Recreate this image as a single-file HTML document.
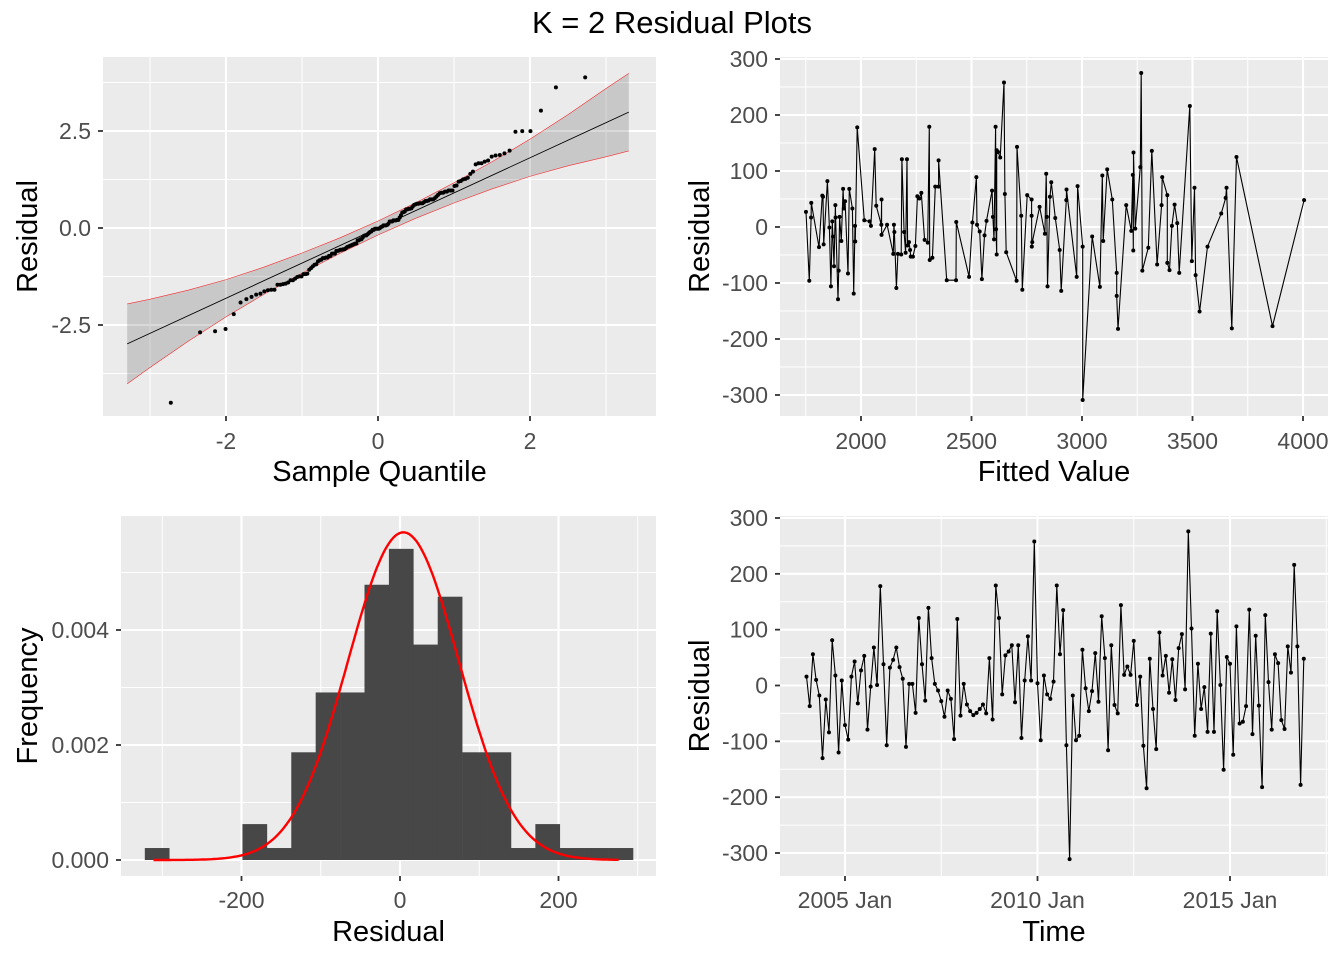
<!DOCTYPE html>
<html><head><meta charset="utf-8"><style>
html,body{margin:0;padding:0;background:#fff}
svg{display:block}
text{font-family:"Liberation Sans",Arial,sans-serif}
</style></head><body>
<svg id="chart" width="1344" height="960" viewBox="0 0 1344 960" xmlns="http://www.w3.org/2000/svg">
<text x="672" y="33" text-anchor="middle" font-size="31" fill="#000">K = 2 Residual Plots</text>
<g id="p1"></g>
<g id="p2"></g>
<g id="p3"></g>
<g id="p4"></g>
</svg>
<script>
// residuals in time order (monthly)
const residuals = [16,-37,56,10,-18,-130,-25,-84,81,18,-120,9,-71,-97,16,43,-32,27,53,-79,-2,68,1,178,38,-107,32,46,68,33,12,-110,3,3,-49,121,38,-27,139,49,3,-9,-28,-56,-9,-24,-96,119,-54,
3,-34,-46,-53,-49,-42,-34,-50,49,-61,179,121,-16,54,61,72,-30,72,-94,9,88,9,258,4,-98,18,-16,-24,7,179,56,135,-107,-311,-18,-98,-90,64,-5,-46,-10,58,-29,124,49,-116,72,-35,-50,144,19,34,
19,80,-35,16,-108,-184,48,-42,-114,95,18,53,-13,47,-26,67,92,-7,276,102,-90,39,-42,-3,-83,93,-83,133,1,-151,51,39,-124,106,-68,-65,-37,136,-87,89,-36,-182,126,6,-79,56,40,-62,-78,70,23,216,70,-178,48];
const residualSigma = 70;
const qqLineSlope = 0.905, qqLineIntercept = 0.0;
const timeStart = 2004.0, timeEnd = 2016.917;
const timeTicks = [2005, 2010, 2015];
const timeTickLabels = ["2005 Jan", "2010 Jan", "2015 Jan"];
// fitted value vs residual (sorted by fitted)
const fittedValues = [1751,1766,1774,1775,1810,1825,1828,1831,1848,1857,1864,1870,1873,1878,1884,1885,1896,1899,1903,1911,1919,1922,1928,1941,1947,1961,1967,1973,1974,1983,2015,2039,2045,2062,2069,2092,2093,2093,2118,2146,2149,2151,2160,2167,2182,2185,2195,2202,2208,2211,2217,2222,2225,2235,2246,2255,2264,2273,2288,2302,2309,2311,2323,2336,2351,2351,2388,2430,2431,2489,2504,
2522,2525,2537,2547,2559,2568,2593,2597,2602,2609,2611,2614,2614,2620,2630,2647,2651,2657,2704,2706,2725,2730,2752,2772,2772,2773,2775,2808,2832,2838,2841,2844,2855,2861,2879,2899,2906,2929,2930,2976,2980,3003,3003,3046,3081,3092,3096,3114,3137,3157,3157,3163,3200,3223,3230,3232,3233,3241,3264,3268,3273,3300,
3316,3340,3360,3363,3386,3386,3396,3407,3419,3431,3440,3488,3497,3509,3514,3532,3568,3630,3650,3654,3678,3699,3862,4005];
const fittedResiduals = [27,-96,17,43,-36,56,54,-31,82,-1,-106,10,-17,-70,39,17,-129,-78,18,-25,68,33,46,-83,68,33,-119,2,-26,178,12,10,2,139,38,4,49,-14,4,-48,4,-9,-109,-48,-49,121,-9,-46,121,-33,-27,-41,-53,-53,-34,55,51,61,-23,-28,179,-59,-55,72,72,119,-95,-95,9,-89,8,
89,4,-8,-93,-15,11,65,18,-22,179,-4,-49,137,134,124,258,59,-45,-96,143,20,-112,57,49,20,-35,-27,36,-12,95,18,-106,54,80,16,-41,-114,48,67,-89,73,-35,-309,-17,-107,92,-25,103,49,-82,-123,-182,39,-7,93,-42,133,-3,107,275,-78,-37,
136,-67,39,89,57,-64,-77,2,40,7,-82,216,-61,70,-86,-151,-35,24,52,70,-181,125,-177,48];
// histogram (counts per bin)
const histCounts = [1,0,0,0,3,1,9,14,14,23,26,18,22,9,9,1,3,1,1,1];
const histStart = -322, histBinWidth = 30.8;
// QQ confidence band half-widths
const bandX = [-3.3,-3,-2.5,-2,-1.5,-1,-0.5,0,0.5,1,1.5,2,2.5,3,3.3];
const bandHalf = [1.03,0.88,0.66,0.48,0.35,0.26,0.2,0.18,0.2,0.26,0.35,0.48,0.66,0.88,1.0];

const NS="http://www.w3.org/2000/svg";
function mk(parent, tag, attrs){const e=document.createElementNS(NS,tag);for(const k in attrs)e.setAttribute(k,attrs[k]);parent.appendChild(e);return e;}
function lin(d0,d1,r0,r1){return v=>r0+(v-d0)*(r1-r0)/(d1-d0);}
function qnorm(p){const a=[-3.969683028665376e+01,2.209460984245205e+02,-2.759285104469687e+02,1.383577518672690e+02,-3.066479806614716e+01,2.506628277459239e+00],b=[-5.447609879822406e+01,1.615858368580409e+02,-1.556989798598866e+02,6.680131188771972e+01,-1.328068155288572e+01],c=[-7.784894002430293e-03,-3.223964580411365e-01,-2.400758277161838e+00,-2.549732539343734e+00,4.374664141464968e+00,2.938163982698783e+00],d=[7.784695709041462e-03,3.224671290700398e-01,2.445134137142996e+00,3.754408661907416e+00];const pl=0.02425;let q,r;if(p<pl){q=Math.sqrt(-2*Math.log(p));return(((((c[0]*q+c[1])*q+c[2])*q+c[3])*q+c[4])*q+c[5])/((((d[0]*q+d[1])*q+d[2])*q+d[3])*q+1);}if(p>1-pl){q=Math.sqrt(-2*Math.log(1-p));return-(((((c[0]*q+c[1])*q+c[2])*q+c[3])*q+c[4])*q+c[5])/((((d[0]*q+d[1])*q+d[2])*q+d[3])*q+1);}q=p-0.5;r=q*q;return(((((a[0]*r+a[1])*r+a[2])*r+a[3])*r+a[4])*r+a[5])*q/(((((b[0]*r+b[1])*r+b[2])*r+b[3])*r+b[4])*r+1);}

function panel(g, L,T,R,B, xs, ys, xMaj, xMin, yMaj, yMin, xLab, yLab, yLabX, xLabY, xTitle, yTitle, yTitleX){
  const bg=mk(g,'rect',{x:L,y:T,width:R-L,height:B-T,fill:'#EBEBEB'});
  
  
  xMin.forEach(v=>{const x=xs(v);if(x>L&&x<R){const l=mk(g,'line',{x1:x,x2:x,y1:T,y2:B,stroke:'#fff','stroke-width':1});}});
  yMin.forEach(v=>{const y=ys(v);if(y>T&&y<B){const l=mk(g,'line',{x1:L,x2:R,y1:y,y2:y,stroke:'#fff','stroke-width':1});}});
  xMaj.forEach((v,i)=>{const x=xs(v);const l=mk(g,'line',{x1:x,x2:x,y1:T,y2:B,stroke:'#fff','stroke-width':2.1});
    mk(g,'line',{x1:x,x2:x,y1:B,y2:B+5,stroke:'#333','stroke-width':1.8});
    const t=mk(g,'text',{x:x,y:xLabY,'text-anchor':'middle','font-size':23,fill:'#4D4D4D'});t.textContent=xLab[i];});
  yMaj.forEach((v,i)=>{const y=ys(v);const l=mk(g,'line',{x1:L,x2:R,y1:y,y2:y,stroke:'#fff','stroke-width':2.1});
    mk(g,'line',{x1:L-5,x2:L,y1:y,y2:y,stroke:'#333','stroke-width':1.8});
    const t=mk(g,'text',{x:yLabX,y:y+8,'text-anchor':'end','font-size':23,fill:'#4D4D4D'});t.textContent=yLab[i];});
  const xt=mk(g,'text',{x:(L+R)/2,y:B+65,'text-anchor':'middle','font-size':29,fill:'#000'});xt.textContent=xTitle;
  
  const cy=(T+B)/2;
  const yt=mk(g,'text',{x:yTitleX,y:cy,'text-anchor':'middle','font-size':29,fill:'#000',transform:`rotate(-90 ${yTitleX} ${cy})`});yt.textContent=yTitle;
  
}
function drawLinePoints(g, xsArr, ysArr){
  const d=xsArr.map((x,i)=>(i?'L':'M')+x.toFixed(1)+','+ysArr[i].toFixed(1)).join('');
  const p=mk(g,'path',{d:d,fill:'none',stroke:'#000','stroke-width':1.1});
  
  xsArr.forEach((x,i)=>{const c=mk(g,'circle',{cx:x,cy:ysArr[i],r:2,fill:'#000'});
    });
}
const n=residuals.length;
const mean=residuals.reduce((a,b)=>a+b,0)/n;
const sd=residualSigma;

// ---- Panel 1: QQ plot
(function(){
  const g=document.getElementById('p1');
  const L=103,T=57,R=656,B=416;
  const xs=lin(0,2,378,530), ys=lin(0,2.5,228,131);
  panel(g,L,T,R,B,xs,ys,[-2,0,2],[-3,-1,1,3],[-2.5,0,2.5],[-3.75,-1.25,1.25,3.75],['-2','0','2'],['-2.5','0.0','2.5'],91,449,'Sample Quantile','Residual',37);
  const sorted=residuals.map(r=>(r-mean)/sd).sort((a,b)=>a-b);
  const theo=sorted.map((v,i)=>qnorm((i+0.5)/n));
  const slope=qqLineSlope, inter=qqLineIntercept;
  const up=bandX.map((x,i)=>[xs(x),ys(inter+slope*x+bandHalf[i])]);
  const lo=bandX.map((x,i)=>[xs(x),ys(inter+slope*x-bandHalf[i])]);
  const band=mk(g,'path',{d:'M'+up.map(p=>p.join(',')).join('L')+'L'+lo.slice().reverse().map(p=>p.join(',')).join('L')+'Z',fill:'#000','fill-opacity':0.15});
  
  [up,lo].forEach(a=>{const e=mk(g,'path',{d:'M'+a.map(p=>p.join(',')).join('L'),fill:'none',stroke:'#f00','stroke-width':0.6,'stroke-opacity':0.8});
    });
  const x0=bandX[0],x1=bandX[bandX.length-1];
  const rl=mk(g,'line',{x1:xs(x0),y1:ys(inter+slope*x0),x2:xs(x1),y2:ys(inter+slope*x1),stroke:'#000','stroke-width':0.9});
  
  sorted.forEach((v,i)=>{const c=mk(g,'circle',{cx:xs(theo[i]),cy:ys(v),r:2,fill:'#000'});
    });
})();

// ---- Panel 2: fitted vs residual
(function(){
  const g=document.getElementById('p2');
  const L=780,T=57,R=1328,B=416;
  const xs=lin(2000,4000,861,1303), ys=lin(0,300,227,59);
  const yt=[-300,-200,-100,0,100,200,300];
  panel(g,L,T,R,B,xs,ys,[2000,2500,3000,3500,4000],[1750,2250,2750,3250,3750],yt,[-250,-150,-50,50,150,250],['2000','2500','3000','3500','4000'],yt.map(String),768,449,'Fitted Value','Residual',709);
  drawLinePoints(g,fittedValues.map(xs),fittedResiduals.map(ys));
})();

// ---- Panel 3: histogram
(function(){
  const g=document.getElementById('p3');
  const L=121,T=516,R=656,B=876;
  const xs=lin(0,200,400,558.5), ys=lin(0,0.002,860,745);
  panel(g,L,T,R,B,xs,ys,[-200,0,200],[-300,-100,100,300],[0,0.002,0.004],[0.001,0.003,0.005],['-200','0','200'],['0.000','0.002','0.004'],109,908,'Residual','Frequency',37);
  const total=histCounts.reduce((a,b)=>a+b,0);
  histCounts.forEach((c,i)=>{if(!c)return;const x0=xs(histStart+i*histBinWidth),x1=xs(histStart+(i+1)*histBinWidth);
    const dens=c/(total*histBinWidth);
    const r=mk(g,'rect',{x:x0,y:ys(dens),width:x1-x0+0.3,height:ys(0)-ys(dens),fill:'#474747'});
    });
  const mn=Math.min(...residuals),mx=Math.max(...residuals);
  let d='';for(let k=0;k<=200;k++){const v=mn+(mx-mn)*k/200;const y=Math.exp(-0.5*((v-mean)/sd)**2)/(sd*Math.sqrt(2*Math.PI));d+=(k?'L':'M')+xs(v).toFixed(1)+','+ys(y).toFixed(1);}
  const cv=mk(g,'path',{d:d,fill:'none',stroke:'#f00','stroke-width':2.4});
  
})();

// ---- Panel 4: time series
(function(){
  const g=document.getElementById('p4');
  const L=780,T=516,R=1328,B=876;
  const xs=lin(2005,2010,845,1037.5), ys=lin(0,300,685.5,518);
  const yt=[-300,-200,-100,0,100,200,300];
  panel(g,L,T,R,B,xs,ys,timeTicks,[2002.5,2007.5,2012.5,2017.5],yt,[-250,-150,-50,50,150,250],timeTickLabels,yt.map(String),768,908,'Time','Residual',709);
  const times=residuals.map((r,i)=>timeStart+(timeEnd-timeStart)*i/(n-1));
  drawLinePoints(g,times.map(xs),residuals.map(ys));
})();
</script>
</body></html>
